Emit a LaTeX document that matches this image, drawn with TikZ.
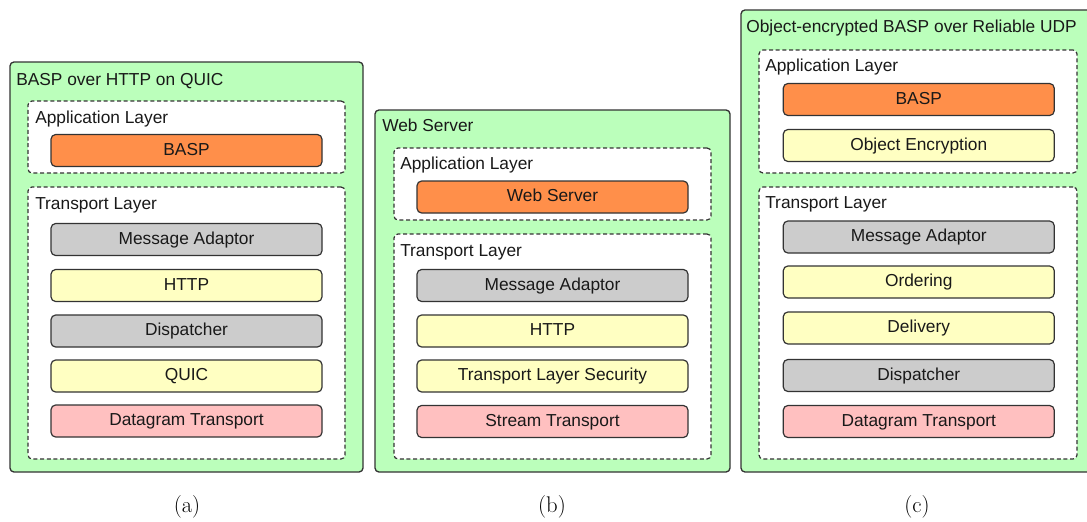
\documentclass[tikz,border=0pt]{standalone}
\usepackage{fontspec}
\newfontfamily\boxfont{Liberation Sans}
\usepackage{tikz}
\usetikzlibrary{fit}
\usepackage{xcolor}

\definecolor{panelgreen}{RGB}{187,255,187}
\definecolor{apporange}{RGB}{255,143,74}
\definecolor{protoyellow}{RGB}{255,255,194}
\definecolor{adaptgray}{RGB}{204,204,204}
\definecolor{carrierpink}{RGB}{255,192,192}
\definecolor{edgegray}{RGB}{51,51,51}

\begin{document}
\begin{tikzpicture}[x=0.75pt,y=-0.75pt]
	\tikzstyle{panel}=[draw=edgegray,line width=1pt,fill=panelgreen,rounded corners=3pt,inner sep=0pt]
	\tikzstyle{layer}=[draw=edgegray,dash pattern=on 3pt off 2pt,line width=0.9pt,fill=white,rounded corners=3pt,inner sep=0pt]
	\tikzstyle{block}=[draw=edgegray,line width=0.9pt,rounded corners=3.5pt,minimum width=203.25pt,minimum height=24pt,inner sep=0pt,text=black!90,font=\boxfont\fontsize{13}{15}\selectfont,text height=0.72em,text depth=0pt]
	\tikzstyle{app}=[block,fill=apporange]
	\tikzstyle{proto}=[block,fill=protoyellow]
	\tikzstyle{adapt}=[block,fill=adaptgray]
	\tikzstyle{carrier}=[block,fill=carrierpink]
	\tikzstyle{caption}=[anchor=base west,inner sep=0pt,text=black!90,font=\boxfont\fontsize{13}{15}\selectfont]
	\tikzstyle{sub}=[anchor=base,inner sep=0pt,font=\fontsize{17}{20}\selectfont]
	\clip (0,0) rectangle (1087,521);

	% (a) BASP over HTTP on QUIC
	\node[panel,fit={(10,62) (363,472)}] (pa) {};
	\node[layer,fit={(28,101) (345,173)}] (aapp) {};
	\node[layer,fit={(28,187) (345,459)}] (atrans) {};
	\node[caption] (atitle) at (16,85.5) {BASP over HTTP on QUIC};
	\node[caption] (aapplbl) at (35,123) {Application Layer};
	\node[caption] (atranslbl) at (35,209) {Transport Layer};
	\node[app] (abasp) at (186.5,150.5) {BASP};
	\node[adapt] (aadapt) at (186.5,239.5) {Message Adaptor};
	\node[proto] (ahttp) at (186.5,285.5) {HTTP};
	\node[adapt] (adisp) at (186.5,331) {Dispatcher};
	\node[proto] (aquic) at (186.5,376) {QUIC};
	\node[carrier] (adgram) at (186.5,421) {Datagram Transport};
	\node[sub] (asub) at (187,512.5) {(a)};

	% (b) Web Server
	\node[panel,fit={(375,110) (730,472)}] (pb) {};
	\node[layer,fit={(394,148) (711,220)}] (bapp) {};
	\node[layer,fit={(394,234) (711,459)}] (btrans) {};
	\node[caption] (btitle) at (382,131.7) {Web Server};
	\node[caption] (bapplbl) at (400,169) {Application Layer};
	\node[caption] (btranslbl) at (400,256) {Transport Layer};
	\node[app] (bweb) at (552.5,197) {Web Server};
	\node[adapt] (badapt) at (552.5,285.5) {Message Adaptor};
	\node[proto] (bhttp) at (552.5,331) {HTTP};
	\node[proto] (btls) at (552.5,376) {Transport Layer Security};
	\node[carrier] (bstream) at (552.5,421.5) {Stream Transport};
	\node[sub] (bsub) at (552,512.5) {(b)};

	% (c) Object-encrypted BASP over Reliable UDP
	\node[panel,fit={(741,10) (1095,472)}] (pc) {};
	\node[layer,fit={(759,50) (1077,173)}] (capp) {};
	\node[layer,fit={(759,187) (1077,459)}] (ctrans) {};
	\node[caption] (ctitle) at (746,32.3) {Object-encrypted BASP over Reliable UDP};
	\node[caption] (capplbl) at (765,71.7) {Application Layer};
	\node[caption] (ctranslbl) at (765,208) {Transport Layer};
	\node[app] (cbasp) at (918.75,99.5) {BASP};
	\node[proto] (cenc) at (918.75,145.5) {Object Encryption};
	\node[adapt] (cadapt) at (918.75,237) {Message Adaptor};
	\node[proto] (corder) at (918.75,282) {Ordering};
	\node[proto] (cdeliv) at (918.75,328) {Delivery};
	\node[adapt] (cdisp) at (918.75,375.5) {Dispatcher};
	\node[carrier] (cdgram) at (918.75,421.5) {Datagram Transport};
	\node[sub] (csub) at (917,512.5) {(c)};
\end{tikzpicture}
\end{document}
